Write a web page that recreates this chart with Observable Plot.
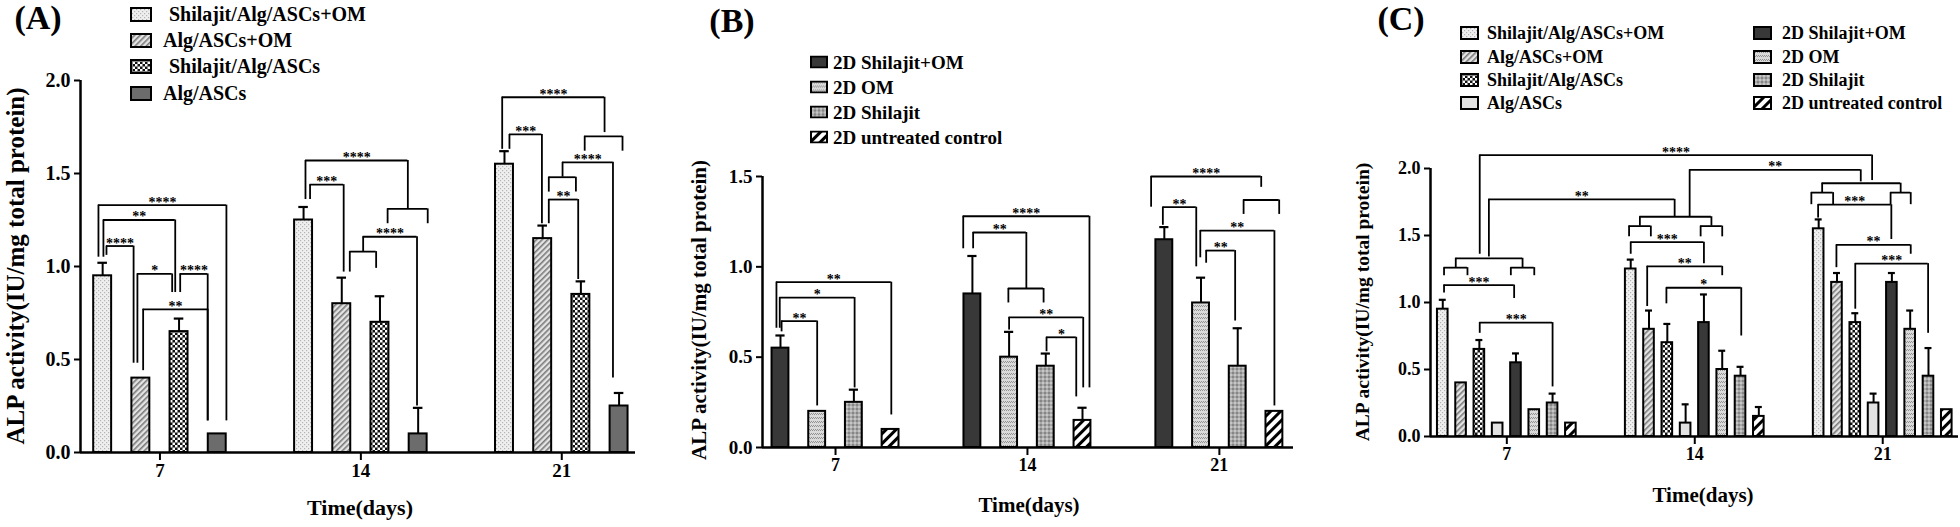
<!DOCTYPE html>
<html><head><meta charset="utf-8">
<script src="https://cdn.jsdelivr.net/npm/d3@7"></script>
<script src="https://cdn.jsdelivr.net/npm/@observablehq/plot@0.6"></script>
<style>
html,body{margin:0;padding:0;background:#fff;}
#fig{position:relative;width:1960px;height:527px;overflow:hidden;font-family:"Liberation Serif","Times New Roman",serif;font-weight:bold;color:#000;background:#fff;}
.abs{position:absolute;white-space:nowrap;line-height:1;}
.c{transform:translate(-50%,-50%);}
.rot{transform:translate(-50%,-50%) rotate(-90deg);}
.leg{position:absolute;display:flex;align-items:center;transform:translateY(-50%);white-space:nowrap;line-height:1;}
.leg svg{flex:none;}
.panel{position:absolute;top:0;}
</style></head><body>
<svg width="0" height="0" style="position:absolute">
<defs>
<pattern id="pDots" width="4" height="4" patternUnits="userSpaceOnUse">
  <rect width="4" height="4" fill="#efefef"/>
  <rect x="0" y="0" width="1.2" height="1.2" fill="#b4b4b4"/>
  <rect x="2" y="2" width="1.2" height="1.2" fill="#b4b4b4"/>
</pattern>
<pattern id="pHatch" width="4" height="4" patternUnits="userSpaceOnUse" patternTransform="rotate(45)">
  <rect width="4" height="4" fill="#e4e4e4"/>
  <rect x="0" y="0" width="1.6" height="4" fill="#7a7a7a"/>
</pattern>
<pattern id="pCheck" width="5" height="5" patternUnits="userSpaceOnUse">
  <rect width="5" height="5" fill="#111"/>
  <rect width="2.5" height="2.5" fill="#fff"/>
  <rect x="2.5" y="2.5" width="2.5" height="2.5" fill="#fff"/>
</pattern>
<pattern id="pOM" width="4" height="4" patternUnits="userSpaceOnUse">
  <rect width="4" height="4" fill="#dadada"/>
  <path d="M0,3 L2,1 M2,3 L4,1" stroke="#8a8a8a" stroke-width="0.9"/>
</pattern>
<pattern id="pShil" width="4" height="4" patternUnits="userSpaceOnUse">
  <rect width="4" height="4" fill="#a9a9a9"/>
  <rect width="2" height="2" fill="#858585"/>
  <rect x="2" y="2" width="2" height="2" fill="#c6c6c6"/>
</pattern>
<pattern id="pCtrl" width="7" height="7" patternUnits="userSpaceOnUse" patternTransform="rotate(45)">
  <rect width="7" height="7" fill="#fff"/>
  <rect width="3" height="7" fill="#000"/>
</pattern>
</defs></svg>
<div id="fig"></div>
<script>
// ---------------- data ----------------
const days = ["7", "14", "21"];

const seriesA = ["Shilajit/Alg/ASCs+OM", "Alg/ASCs+OM", "Shilajit/Alg/ASCs", "Alg/ASCs"];
// mean per day (rows: day 7, 14, 21), columns follow seriesA
const meanA = [[0.95, 0.40, 0.65, 0.10], [1.25, 0.80, 0.70, 0.10], [1.55, 1.15, 0.85, 0.25]];
const errA  = [[0.07, 0.00, 0.07, 0.00], [0.07, 0.14, 0.14, 0.14], [0.07, 0.07, 0.07, 0.07]];

const seriesB = ["2D Shilajit+OM", "2D OM", "2D Shilajit", "2D untreated control"];
const meanB = [[0.55, 0.20, 0.25, 0.10], [0.85, 0.50, 0.45, 0.15], [1.15, 0.80, 0.45, 0.20]];
const errB  = [[0.07, 0.00, 0.07, 0.00], [0.21, 0.14, 0.07, 0.07], [0.07, 0.14, 0.21, 0.00]];

const seriesC = seriesA.concat(seriesB);
const meanC = meanA.map((r, g) => r.concat(meanB[g]));
const errC = errA.map((r, g) => r.concat(errB[g]));

const yTicksA = [0, 0.5, 1.0, 1.5, 2.0];
const yTicksB = [0, 0.5, 1.0, 1.5];
const yTicksC = [0, 0.5, 1.0, 1.5, 2.0];

// significance brackets: [day idx L, bar pos L, day idx R, bar pos R, bracket value, left leg end, right leg end, label]
const bracketsA = [
  [0,-0.11,0,3.24,1.33,1.05,0.17,"****"],
  [0,0.02,0,1.90,1.25,1.05,0.86,"**"],
  [0,0.10,0,0.81,1.11,1.06,0.48,"****"],
  [0,0.91,0,1.82,0.96,0.48,0.86,"*"],
  [0,2.03,0,2.75,0.96,0.86,0.17,"****"],
  [0,1.06,0,2.75,0.77,0.44,0.17,"**"],
  [1,0.05,1,2.73,1.57,1.36,1.31,"****"],
  [1,2.20,1,3.25,1.31,1.23,1.23,""],
  [1,0.17,1,1.05,1.44,1.36,0.97,"***"],
  [1,1.21,1,1.90,1.08,0.97,0.99,""],
  [1,1.56,1,2.97,1.16,1.08,0.25,"****"],
  [2,-0.06,2,2.62,1.91,1.63,1.72,"****"],
  [2,2.10,2,3.09,1.70,1.62,1.62,""],
  [2,0.13,2,0.98,1.71,1.63,1.23,"***"],
  [2,1.52,2,2.84,1.56,1.48,0.40,"****"],
  [2,1.16,2,1.87,1.48,1.40,1.40,""],
  [2,1.16,2,1.93,1.36,1.23,0.93,"**"]
];
const bracketsB = [
  [0,-0.11,0,3.02,0.915,0.66,0.18,"**"],
  [0,-0.02,0,2.02,0.83,0.66,0.33,"*"],
  [0,0.03,0,1.00,0.70,0.64,0.23,"**"],
  [1,-0.25,1,3.19,1.28,1.10,0.33,"****"],
  [1,0.02,1,1.47,1.19,1.10,0.88,"**"],
  [1,0.98,1,1.94,0.88,0.80,0.80,""],
  [1,1.00,1,3.02,0.72,0.65,0.33,"**"],
  [1,2.02,1,2.83,0.61,0.53,0.28,"*"],
  [2,-0.36,2,2.64,1.50,1.33,1.44,"****"],
  [2,2.16,2,3.13,1.37,1.29,1.29,""],
  [2,-0.04,2,0.87,1.33,1.23,1.00,"**"],
  [2,0.98,2,3.00,1.20,1.05,0.23,"**"],
  [2,1.14,2,1.93,1.09,1.02,0.70,"**"]
];
const bracketsC = [
  [0,0.07,0,3.90,1.13,1.07,1.03,"***"],
  [0,2.02,0,6.00,0.85,0.77,0.37,"***"],
  [0,0.07,0,1.35,1.26,1.20,1.20,""],
  [0,3.72,0,5.00,1.26,1.20,1.20,""],
  [0,0.71,0,4.36,1.33,1.26,1.26,""],
  [0,2.02,2,2.92,2.10,1.36,1.91,"****"],
  [0,2.52,1,2.40,1.77,1.34,1.64,"**"],
  [1,3.22,2,2.30,1.99,1.64,1.90,"**"],
  [1,-0.09,1,1.10,1.57,1.49,1.49,""],
  [1,3.82,1,5.00,1.57,1.49,1.49,""],
  [1,0.50,1,4.41,1.64,1.57,1.57,""],
  [1,0.00,1,4.00,1.45,1.36,1.29,"***"],
  [1,0.90,1,5.00,1.27,0.97,1.20,"**"],
  [1,1.95,1,6.04,1.11,0.99,0.75,"*"],
  [2,-0.40,2,0.79,1.82,1.73,1.73,""],
  [2,3.93,2,5.03,1.82,1.73,1.73,""],
  [2,0.19,2,4.48,1.89,1.82,1.82,""],
  [2,-0.03,2,3.97,1.73,1.63,1.47,"***"],
  [2,0.97,2,5.03,1.43,1.26,1.36,"**"],
  [2,2.00,2,5.98,1.29,0.95,0.77,"***"]
];

const yTitle = "ALP activity(IU/mg total protein)";
const xTitle = "Time(days)";

// ---------------- styles ----------------
const fillA = ["url(#pDots)", "url(#pHatch)", "url(#pCheck)", "#6c6c6c"];
const fillB = ["#383838", "url(#pOM)", "url(#pShil)", "url(#pCtrl)"];
const fillC = ["url(#pDots)", "url(#pHatch)", "url(#pCheck)", "#e2e2e2"].concat(fillB);

const fig = document.getElementById("fig");
const FONT = '"Liberation Serif","Times New Roman",serif';

function drawPanel(cfg) {
  const n = cfg.series.length;
  const rows = [];
  cfg.means.forEach((vals, g) => vals.forEach((v, i) => rows.push({g, i, x: g * cfg.G + i, v, e: cfg.errs[g][i]})));
  const centers = days.map((d, g) => g * cfg.G + (n - 1) / 2);
  const err = rows.filter(r => r.e > 0);
  const br = cfg.brackets.map(([gL, pL, gR, pR, y, lL, lR, label]) =>
    ({xL: gL * cfg.G + pL, xR: gR * cfg.G + pR, y, lL, lR, label}));
  const marks = [];
  marks.push(Plot.ruleX(err, {x: "x", y1: "v", y2: r => r.v + r.e, stroke: "#000", strokeWidth: 2}));
  marks.push(Plot.ruleY(err, {y: r => r.v + r.e, x1: r => r.x - cfg.capW / 2, x2: r => r.x + cfg.capW / 2, stroke: "#000", strokeWidth: 2.2}));
  cfg.series.forEach((s, i) => {
    marks.push(Plot.rect(rows.filter(r => r.i === i), {
      x1: r => r.x - cfg.barW / 2, x2: r => r.x + cfg.barW / 2, y1: 0, y2: "v",
      fill: cfg.fills[i], stroke: "#000", strokeWidth: 2
    }));
  });
  marks.push(Plot.ruleY(br, {y: "y", x1: "xL", x2: "xR", stroke: "#000", strokeWidth: 1.8}));
  marks.push(Plot.ruleX(br, {x: "xL", y1: "y", y2: "lL", stroke: "#000", strokeWidth: 1.8}));
  marks.push(Plot.ruleX(br, {x: "xR", y1: "y", y2: "lR", stroke: "#000", strokeWidth: 1.8}));
  marks.push(Plot.text(br.filter(b => b.label), {
    x: b => (b.xL + b.xR) / 2, y: "y", text: "label", dy: -3,
    fontSize: 14, fontWeight: "bold", fontFamily: FONT, fill: "#000"
  }));
  marks.push(Plot.ruleY([0], {stroke: "#000", strokeWidth: 2.5}));
  marks.push(Plot.ruleX([cfg.domainX[0]], {y1: 0, y2: cfg.yMax, stroke: "#000", strokeWidth: 2.5}));
  marks.push(Plot.axisY({ticks: cfg.yTicks, tickFormat: d3.format(".1f"), tickSize: 6, tickPadding: 4,
    stroke: "#000", strokeWidth: 2, fill: "#000", fontSize: cfg.fontSize, fontWeight: "bold", fontFamily: FONT, label: null}));
  marks.push(Plot.axisX({ticks: centers, tickFormat: d => days[centers.findIndex(c => Math.abs(c - d) < 1e-6)],
    tickSize: 8, tickPadding: 3, stroke: "#000", strokeWidth: 2, fill: "#000", fontSize: cfg.xFontSize, fontWeight: "bold", fontFamily: FONT, label: null}));

  const svg = Plot.plot({
    width: cfg.width, height: 527,
    marginLeft: cfg.mL, marginRight: cfg.mR, marginTop: cfg.mT, marginBottom: cfg.mB,
    x: {domain: cfg.domainX, axis: null},
    y: {domain: [0, cfg.yMax], axis: null},
    style: {fontFamily: FONT, fontWeight: "bold", fontSize: cfg.fontSize + "px", color: "#000", background: "transparent", overflow: "visible"},
    marks
  });
  const wrap = document.createElement("div");
  wrap.className = "panel";
  wrap.style.left = cfg.left + "px";
  wrap.appendChild(svg);
  fig.appendChild(wrap);
}

function addText(txt, cx, cy, size, rotated) {
  const d = document.createElement("div");
  d.className = "abs " + (rotated ? "rot" : "c");
  d.style.left = cx + "px"; d.style.top = cy + "px"; d.style.fontSize = size + "px";
  d.textContent = txt;
  fig.appendChild(d);
}

function addLegend(names, fills, x0, xText, ys, size, sw, sh, indents) {
  names.forEach((name, i) => {
    const d = document.createElement("div");
    d.className = "leg";
    d.style.left = x0 + "px"; d.style.top = ys[i] + "px"; d.style.fontSize = size + "px";
    const gap = xText - x0 - sw - 2 + (indents ? indents[i] : 0);
    d.innerHTML = `<svg width="${sw + 2}" height="${sh + 2}" style="margin-right:${gap}px"><rect x="1" y="1" width="${sw}" height="${sh}" fill="${fills[i]}" stroke="#000" stroke-width="2"/></svg><span></span>`;
    d.querySelector("span").textContent = name;
    fig.appendChild(d);
  });
}

// Panel A
drawPanel({series: seriesA, means: meanA, errs: errA, fills: fillA, G: 5.26, domainX: [-0.58, 13.95],
  yMax: 2.0, yTicks: yTicksA, left: 0, width: 660, mL: 80, mR: 25, mT: 80, mB: 75,
  barW: 0.47, capW: 0.25, fontSize: 20, xFontSize: 19, brackets: bracketsA});
// Panel B
drawPanel({series: seriesB, means: meanB, errs: errB, fills: fillB, G: 5.23, domainX: [-0.49, 13.98],
  yMax: 1.5, yTicks: yTicksB, left: 680, width: 620, mL: 82, mR: 7, mT: 176, mB: 80,
  barW: 0.46, capW: 0.25, fontSize: 19, xFontSize: 18, brackets: bracketsB});
// Panel C
drawPanel({series: seriesC, means: meanC, errs: errC, fills: fillC, G: 10.27, domainX: [-0.67, 28.18],
  yMax: 2.0, yTicks: yTicksC, left: 1310, width: 650, mL: 120, mR: 2, mT: 168, mB: 91,
  barW: 0.58, capW: 0.38, fontSize: 18, xFontSize: 18, brackets: bracketsC});

// Panel letters
addText("(A)", 38, 18, 34, false);
addText("(B)", 732, 21, 34, false);
addText("(C)", 1401, 19, 34, false);

// Axis titles
addText(yTitle, 15, 266, 25, true);
addText(yTitle, 699, 310, 21, true);
addText(yTitle, 1363, 302, 19.5, true);
addText(xTitle, 360, 508, 22, false);
addText(xTitle, 1029, 505, 21, false);
addText(xTitle, 1703, 495, 21, false);

// Legends
addLegend(seriesA, fillA, 130, 163, [14, 40, 66, 93], 20, 20, 13, [6, 0, 6, 0]);
addLegend(seriesB, fillB, 810, 833, [62, 87, 112, 137], 19, 16, 11);
addLegend(seriesC.slice(0, 4), fillC.slice(0, 4), 1460, 1487, [33, 57, 80, 103], 18, 17, 12);
addLegend(seriesC.slice(4), fillC.slice(4), 1753, 1782, [33, 57, 80, 103], 18, 17, 12);
</script>
</body></html>
